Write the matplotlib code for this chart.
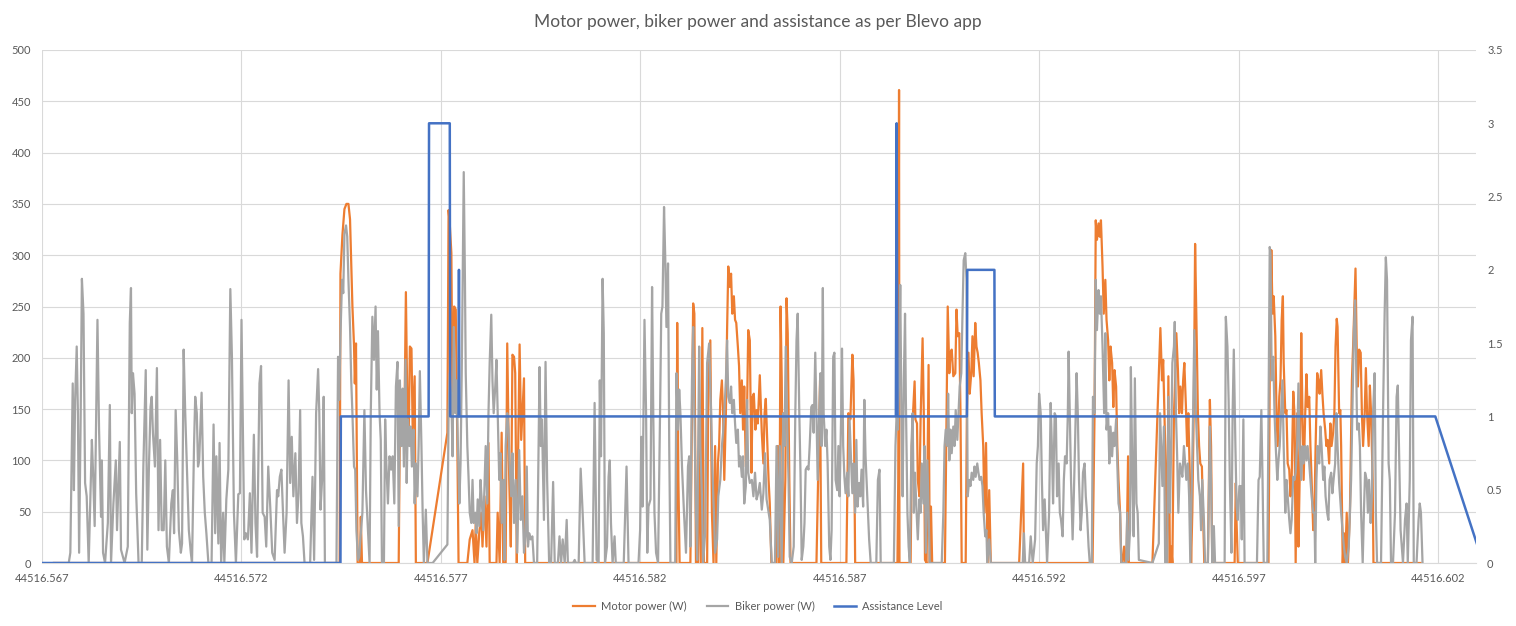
import numpy as np
import matplotlib
matplotlib.use("Agg")
import matplotlib.pyplot as plt

plt.rcParams['font.family'] = ['Lato', 'DejaVu Sans']

# x values are offsets in thousandths of a day from 44516.567
x_start = 44516.567

t_motor = [0.30, 7.46, 7.48, 7.53, 7.58, 7.63, 7.68, 7.72, 7.78, 7.82, 7.84, 7.87, 7.89, 7.91, 7.97, 7.99, 8.02,
           8.94, 8.97, 9.02, 9.05, 9.09, 9.12, 9.16, 9.19, 9.22, 9.26, 9.29, 9.34, 9.37, 9.66, 10.16, 10.19, 10.22,
           10.26, 10.29, 10.33, 10.37, 10.41, 10.44, 10.66, 10.72, 10.79, 10.84, 10.87, 10.91, 10.96, 11.01, 11.04,
           11.09, 11.14, 11.19, 11.22, 11.39, 11.42, 11.47, 11.52, 11.56, 11.62, 11.66, 11.71, 11.75, 11.79, 11.83,
           11.86, 11.90, 11.93, 11.97, 12.01, 12.08, 12.11,
           15.90, 15.92, 15.95, 15.98, 16.25, 16.29, 16.32, 16.35, 16.39, 16.44, 16.47, 16.51, 16.55, 16.59, 16.67,
           16.70, 16.75, 16.79, 16.83, 16.87, 16.90, 16.94, 16.97, 17.00, 17.04, 17.07, 17.10, 17.14, 17.17, 17.20,
           17.24, 17.27, 17.30, 17.34, 17.37, 17.40, 17.44, 17.47, 17.50, 17.54, 17.57, 17.60, 17.64, 17.67, 17.70,
           17.74, 17.78, 17.81, 17.84, 17.88, 17.91, 17.94, 17.99, 18.04, 18.08, 18.11, 18.14, 18.18, 18.21, 18.24,
           18.28, 18.41, 18.44, 18.48, 18.51, 18.54, 18.58, 18.63, 18.66, 18.69, 18.73, 18.76, 19.41, 19.45, 19.50,
           19.53, 20.16, 20.21, 20.26, 20.31, 20.34, 20.38, 21.44, 21.46, 21.48, 21.49, 21.77, 21.80, 21.83, 21.87,
           21.89, 21.93, 21.95, 21.99, 22.02, 22.07, 22.10, 22.13, 22.17, 22.22, 22.25, 22.28, 22.31, 22.63, 22.67,
           22.70, 22.74, 22.77, 22.80, 22.84, 22.89, 22.92, 22.95, 22.99, 23.02, 23.05, 23.15, 23.18, 23.22, 23.25,
           23.29, 23.32, 23.35, 23.39, 23.42, 23.45, 23.48, 23.52, 23.55, 23.59, 23.62, 23.66, 23.70, 23.74, 23.78,
           24.49, 24.59, 24.61, 26.33, 26.38, 26.41, 26.44, 26.48, 26.51, 26.54, 26.58, 26.61, 26.65, 26.68, 26.72,
           26.75, 26.78, 26.82, 26.85, 26.88, 26.92, 26.95, 26.98, 27.02, 27.05, 27.08, 27.12, 27.15, 27.18, 27.22,
           27.24, 27.83, 28.03, 28.07, 28.10, 28.13, 28.17, 28.20, 28.23, 28.27, 28.30, 28.33, 28.37, 28.40, 28.43,
           28.47, 28.50, 28.53, 28.57, 28.60, 28.63, 28.67, 28.70, 28.73, 28.77, 28.80, 28.83, 28.87, 28.90, 28.93,
           28.97, 29.00, 29.03, 29.07, 29.10, 29.13, 29.22, 29.27, 29.30, 29.33, 29.89, 29.92, 29.94, 29.97, 30.74,
           30.77, 30.81, 30.84, 30.87, 30.91, 30.94, 30.97, 31.01, 31.04, 31.07, 31.10, 31.12, 31.16, 31.19, 31.22,
           31.26, 31.29, 31.32, 31.36, 31.39, 31.42, 31.46, 31.49, 31.52, 31.56, 31.59, 31.62, 31.66, 31.69, 31.72,
           31.76, 31.79, 31.82, 31.86, 31.89, 31.92, 31.96, 31.99, 32.02, 32.06, 32.09, 32.12, 32.16, 32.19, 32.22,
           32.26, 32.29, 32.32, 32.36, 32.39, 32.42, 32.45, 32.47, 32.51, 32.54, 32.56, 32.60, 32.63, 32.66, 32.70,
           32.73, 32.78, 32.83, 32.86, 32.90, 32.92, 32.95, 32.98, 33.01, 33.05, 33.08, 33.11, 33.15, 33.18, 33.21,
           33.25, 33.28, 33.31, 33.35, 33.37, 34.55]
motor_w = [0, 0, 282, 320, 345, 350, 350, 335, 250, 212, 175, 214, 100, 0, 0, 45, 0,
           0, 140, 168, 130, 160, 264, 140, 120, 211, 209, 130, 182, 0, 0, 127, 344, 330,
           302, 150, 250, 247, 114, 0, 0, 23, 32, 0, 39, 0, 30, 49, 16,
           65, 16, 117, 0, 0, 49, 0, 127, 0, 0, 214, 81, 16, 203, 201,
           185, 0, 100, 213, 120, 180, 0,
           0, 234, 81, 0, 0, 146, 253, 243, 0, 0, 146, 0, 229, 0, 0,
           178, 217, 49, 0, 114, 0, 97, 114, 159, 178, 146, 81, 146, 227, 289,
           269, 282, 243, 260, 237, 234, 211, 192, 146, 178, 130, 172, 94, 146, 227,
           217, 88, 162, 165, 130, 149, 136, 183, 127, 97, 146, 160, 114, 81, 58,
           0, 0, 114, 0, 250, 178, 0, 81, 258, 224, 81, 0, 0, 81, 178,
           0, 0, 146, 140, 203, 178, 0, 0, 81, 461, 0, 0, 114, 146, 177,
           140, 136, 81, 65, 140, 219, 146, 3, 0, 193, 0, 55, 0, 0, 146,
           250, 185, 205, 208, 182, 185, 247, 221, 224, 146, 0, 0, 146, 205, 165,
           185, 221, 182, 234, 211, 205, 195, 178, 146, 114, 49, 117, 0, 71, 0,
           0, 97, 0, 0, 146, 334, 315, 331, 318, 334, 289, 243, 276, 237, 217,
           178, 211, 195, 152, 188, 172, 114, 81, 49, 0, 0, 16, 0, 0, 104,
           0, 0, 229, 178, 198, 146, 81, 0, 182, 0, 16, 0, 146, 178, 224,
           188, 146, 172, 146, 178, 195, 152, 114, 146, 81, 0, 49, 162, 311, 243,
           146, 114, 97, 94, 49, 0, 0, 159, 114, 0, 0, 78, 39, 0, 0,
           178, 305, 243, 260, 221, 146, 114, 162, 178, 237, 260, 195, 146, 149, 97,
           91, 65, 81, 167, 146, 0, 146, 16, 81, 224, 146, 81, 146, 184, 152,
           162, 114, 81, 32, 49, 114, 185, 178, 165, 188, 165, 146, 130, 114, 120,
           97, 136, 114, 127, 146, 211, 238, 230, 146, 149, 114, 0, 29, 0, 49,
           0, 49, 178, 211, 260, 287, 211, 172, 208, 205, 146, 114, 146, 190, 146,
           114, 173, 146, 81, 0, 0]

t_biker = [0.30, 0.67, 0.71, 0.77, 0.80, 0.83, 0.87, 0.90, 0.93, 0.97, 1.00, 1.04, 1.08, 1.12, 1.17, 1.25, 1.28,
           1.32, 1.39, 1.43, 1.48, 1.50, 1.53, 1.58, 1.65, 1.70, 1.73, 1.79, 1.85, 1.88, 1.95, 1.98, 2.07, 2.15,
           2.20, 2.23, 2.25, 2.28, 2.32, 2.36, 2.42, 2.50, 2.54, 2.60, 2.64, 2.68, 2.72, 2.75, 2.78, 2.83, 2.88,
           2.92, 2.96, 3.00, 3.05, 3.09, 3.13, 3.18, 3.24, 3.28, 3.31, 3.35, 3.39, 3.43, 3.48, 3.51, 3.55, 3.59,
           3.63, 3.68, 3.73, 3.76, 3.81, 3.84, 3.88, 3.91, 3.94, 4.00, 4.04, 4.08, 4.12, 4.17, 4.25, 4.30, 4.34,
           4.37, 4.42, 4.45, 4.49, 4.54, 4.57, 4.62, 4.67, 4.72, 4.76, 4.81, 4.86, 4.92, 4.96, 5.00, 5.03, 5.07,
           5.11, 5.16, 5.21, 5.25, 5.31, 5.35, 5.39, 5.45, 5.49, 5.53, 5.58, 5.62, 5.67, 5.72, 5.77, 5.83, 5.89,
           5.92, 5.96, 6.00, 6.04, 6.08, 6.13, 6.18, 6.22, 6.26, 6.30, 6.35, 6.39, 6.43, 6.47, 6.50, 6.54, 6.58,
           6.72, 6.78, 6.82, 6.87, 6.92, 6.95, 6.98, 7.02, 7.06, 7.09, 7.38, 7.42, 7.45, 7.48, 7.52, 7.55, 7.58,
           7.62, 7.65, 7.68, 7.72, 7.75, 7.78, 7.82, 7.85, 7.88, 7.92, 7.95, 7.98, 8.03, 8.08, 8.12, 8.17, 8.21,
           8.24, 8.28, 8.32, 8.36, 8.39, 8.42, 8.46, 8.49, 8.52, 8.57, 8.60, 8.63, 8.67, 8.71, 8.75, 8.79, 8.83,
           8.87, 8.91, 8.94, 8.97, 9.01, 9.04, 9.07, 9.11, 9.14, 9.17, 9.21, 9.24, 9.27, 9.31, 9.34, 9.37, 9.41,
           9.44, 9.47, 9.51, 9.54, 9.57, 9.62, 9.66, 9.79, 10.16, 10.19, 10.22, 10.26, 10.29, 10.32, 10.36, 10.39,
           10.42, 10.46, 10.49, 10.52, 10.57, 10.60, 10.62, 10.66, 10.69, 10.72, 10.76, 10.79, 10.82, 10.86, 10.89,
           10.92, 10.96, 10.99, 11.02, 11.06, 11.09, 11.12, 11.16, 11.19, 11.22, 11.26, 11.29, 11.32, 11.36, 11.39,
           11.42, 11.46, 11.49, 11.52, 11.56, 11.59, 11.62, 11.66, 11.69, 11.72, 11.76, 11.79,
           11.83, 11.87, 11.91, 11.96, 12.00, 12.04, 12.08, 12.12, 12.15, 12.18, 12.21, 12.25, 12.29, 12.33, 12.41,
           12.47, 12.50, 12.53, 12.58, 12.62, 12.66, 12.71, 12.76, 12.81, 12.85, 12.93, 12.97, 13.01, 13.05, 13.10,
           13.15, 13.18, 13.31, 13.35, 13.38, 13.45, 13.50, 13.55, 13.60, 13.80, 13.85, 13.90, 13.95, 13.98, 14.01,
           14.05, 14.08, 14.11, 14.16, 14.20, 14.23, 14.26, 14.30, 14.35, 14.38, 14.58, 14.65, 14.70,
           14.95, 14.99, 15.02, 15.05, 15.10, 15.14, 15.17, 15.20, 15.25, 15.29, 15.32, 15.35, 15.39, 15.44, 15.49,
           15.52, 15.55, 15.59, 15.62, 15.65, 15.69, 15.72, 15.75, 15.87, 15.90, 15.94, 15.97, 16.00, 16.04, 16.09,
           16.14, 16.19, 16.22, 16.25, 16.29, 16.32, 16.35, 16.39, 16.42, 16.47, 16.50, 16.54, 16.57, 16.62, 16.67,
           16.72, 16.77, 16.80, 16.84, 16.87, 16.92, 16.95, 17.00, 17.04, 17.07, 17.10, 17.14, 17.17, 17.20, 17.24,
           17.27, 17.30, 17.34, 17.37, 17.40, 17.44, 17.47, 17.50, 17.54, 17.57, 17.60, 17.64, 17.67, 17.70,
           17.74, 17.79, 17.83, 17.87, 17.91, 17.95, 17.99, 18.04, 18.08, 18.12, 18.16, 18.20, 18.24, 18.29, 18.37,
           18.41, 18.45, 18.49, 18.54, 18.58, 18.61, 18.64, 18.68, 18.71, 18.74, 18.79, 18.84, 18.88, 18.91, 18.94,
           18.98, 19.01, 19.04, 19.08, 19.11, 19.14, 19.18, 19.21, 19.24, 19.28, 19.31, 19.34, 19.38, 19.41, 19.44,
           19.48, 19.51, 19.54, 19.57, 19.59, 19.63, 19.66, 19.69, 19.73, 19.76, 19.79, 19.83, 19.86, 19.89, 19.93,
           19.96, 19.99, 20.03, 20.05, 20.08, 20.11, 20.14, 20.18, 20.21, 20.24, 20.28, 20.31, 20.34, 20.38, 20.41,
           20.44, 20.48, 20.51, 20.54, 20.58, 20.61, 20.64, 20.68,
           20.73, 20.77, 20.91, 20.95, 20.99, 21.02, 21.35, 21.39, 21.42, 21.45, 21.48, 21.51, 21.54, 21.57, 21.60,
           21.63, 21.65, 21.69, 21.72, 21.75, 21.79, 21.82, 21.85, 21.88, 21.92, 21.95, 21.99, 22.02, 22.05, 22.09,
           22.12, 22.15, 22.19, 22.22, 22.25, 22.55, 22.59, 22.62, 22.65, 22.69, 22.71, 22.74, 22.77, 22.80, 22.84,
           22.87, 22.90, 22.94, 22.97, 23.00, 23.04, 23.07, 23.10, 23.14, 23.17, 23.20, 23.24, 23.27, 23.30, 23.34,
           23.37, 23.40, 23.44, 23.47, 23.50, 23.54, 23.57, 23.60, 23.64,
           23.67, 23.69, 23.74, 23.78, 24.58, 24.61, 24.64, 24.74, 24.78, 24.83, 24.89, 24.93, 24.96, 24.99, 25.03,
           25.06, 25.09, 25.13, 25.16, 25.19, 25.24, 25.28, 25.31, 25.34, 25.38, 25.41, 25.44, 25.48, 25.51, 25.54,
           25.58, 25.61, 25.64, 25.68, 25.71, 25.73, 25.76, 25.79, 25.83, 25.86, 25.89, 25.93, 25.96, 25.99, 26.03,
           26.06, 26.09, 26.13, 26.16, 26.19, 26.23, 26.26, 26.31, 26.34, 26.38, 26.41, 26.44, 26.48, 26.51, 26.54,
           26.58,
           26.62, 26.65, 26.68, 26.72, 26.75, 26.78, 26.82, 26.85, 26.88, 26.92, 26.95, 26.98, 27.02, 27.05, 27.17,
           27.20, 27.23, 27.27, 27.29, 27.33, 27.36, 27.39, 27.43, 27.46, 27.49, 27.83, 27.99, 28.02, 28.05, 28.08,
           28.12, 28.15, 28.20, 28.23, 28.27, 28.30, 28.33, 28.37, 28.39, 28.42, 28.45, 28.48, 28.52, 28.55, 28.58,
           28.62, 28.65, 28.68, 28.72, 28.75, 28.78, 28.82, 28.85, 28.88, 28.92, 28.95, 28.98, 29.02, 29.05, 29.08,
           29.12, 29.15, 29.22, 29.27, 29.30, 29.33, 29.37, 29.40, 29.64,
           29.67, 29.71, 29.74, 29.77, 29.81, 29.84, 29.87, 29.91, 29.94, 29.97, 30.01, 30.04, 30.07, 30.11, 30.14,
           30.45, 30.49, 30.52, 30.56, 30.59, 30.62, 30.71, 30.74, 30.77, 30.79, 30.82, 30.86, 30.89, 30.92, 30.96,
           30.99, 31.02, 31.06, 31.09, 31.12, 31.16, 31.19, 31.22, 31.26, 31.29, 31.32, 31.36, 31.39, 31.42, 31.46,
           31.49, 31.52, 31.56, 31.59, 31.62, 31.66, 31.69, 31.72, 31.76, 31.79, 31.82, 31.86, 31.89, 31.91, 31.94,
           31.97, 32.01, 32.04, 32.07, 32.11, 32.14, 32.17, 32.21, 32.24, 32.27, 32.31, 32.34, 32.37, 32.41, 32.44,
           32.47, 32.51,
           32.56, 32.60, 32.63, 32.66, 32.70, 32.75, 32.78, 32.81, 32.85, 32.88, 32.91, 32.93, 32.96, 33.00, 33.03,
           33.06, 33.10, 33.13, 33.16, 33.20, 33.23, 33.26, 33.30, 33.33, 33.36, 33.40, 33.43, 33.46, 33.56, 33.61,
           33.65, 33.68, 33.71, 33.75, 33.78, 33.81, 33.86, 33.91, 33.95, 33.98, 34.01, 34.05, 34.08, 34.11, 34.16,
           34.20, 34.23, 34.28, 34.31, 34.35, 34.38, 34.45, 34.50, 34.53, 34.56, 34.60]
biker_w = [0, 0, 10, 175, 71, 159, 211, 146, 10, 146, 277, 243, 78, 65, 0, 120, 88,
           36, 237, 130, 45, 100, 10, 0, 39, 154, 0, 58, 100, 32, 118, 13, 0, 16,
           234, 268, 146, 185, 165, 68, 0, 0, 94, 188, 13, 94, 152, 162, 127, 94, 190,
           32, 120, 32, 32, 100, 16, 0, 58, 71, 29, 149, 100, 32, 10, 19, 208, 146,
           94, 32, 10, 0, 114, 162, 146, 94, 100, 166, 84, 49, 29, 0, 0, 135, 29,
           104, 19, 117, 0, 49, 0, 62, 91, 267, 201, 49, 0, 67, 68, 237, 146, 23,
           29, 23, 68, 10, 125, 39, 6, 175, 192, 49, 45, 16, 94, 55, 10, 3, 71,
           65, 84, 91, 49, 10, 49, 178, 78, 123, 65, 107, 39, 68, 149, 39, 26, 0,
           0, 84, 3, 146, 189, 146, 52, 81, 162, 0, 0, 201, 159, 221, 276, 263, 321,
           329, 318, 276, 230, 178, 146, 94, 91, 32, 3, 6, 23, 49, 149, 71, 32, 0,
           146, 240, 198, 250, 169, 226, 146, 120, 0, 0, 140, 97, 58, 104, 91, 104, 58,
           172, 196, 36, 178, 114, 170, 94, 198, 78, 140, 114, 133, 94, 130, 58, 97, 65,
           114, 187, 114, 49, 0, 52, 0, 0, 18, 146, 185, 159, 104, 230, 146, 178,
           120, 58, 97, 185, 381, 276, 185, 114, 84, 49, 39, 81, 39, 49, 29,
           62, 36, 81, 62, 32, 75, 114, 58, 146, 195, 242, 178, 146, 172, 198,
           146, 81, 107, 39, 81, 3, 114, 146, 130, 97, 65, 107,
           39, 81, 10, 110, 42, 65, 10, 26, 94, 16, 29, 23, 26, 0, 0,
           191, 114, 140, 42, 196, 81, 0, 0, 79, 0, 0, 26, 0, 23, 0,
           42, 0, 0, 3, 0, 0, 92, 49, 0, 0, 156, 3, 0, 178, 104,
           277, 224, 0, 16, 84, 100, 39, 0, 26, 0, 0, 94, 0,
           0, 32, 123, 55, 237, 146, 10, 55, 62, 269, 146, 49, 10, 0, 146,
           243, 250, 347, 298, 230, 292, 114, 0, 0, 185, 130, 169, 146, 94, 49,
           10, 94, 104, 16, 178, 230, 146, 49, 3, 211, 114, 65, 0, 29, 195,
           214, 146, 94, 49, 10, 23, 65, 81, 114, 127, 146, 178, 217, 162, 156,
           172, 146, 159, 136, 117, 130, 94, 104, 84, 104, 58, 75, 159, 88,
           78, 81, 65, 88, 62, 68, 78, 52, 68, 107, 62, 52, 42, 0, 0,
           114, 6, 114, 0, 146, 114, 211, 130, 81, 6, 0, 16, 146, 217, 243,
           146, 88, 3, 16, 39, 91, 94, 91, 114, 152, 154, 127, 205, 146, 81,
           146, 185, 114, 268, 146, 114, 130, 97, 16, 3, 32, 201, 205, 81, 71,
           114, 65, 146, 209, 114, 84, 68, 88, 65, 140, 97, 68, 97, 49, 120,
           55, 78, 65, 91, 55, 159, 104, 68,
           23, 0, 0, 81, 91, 0, 0, 114, 146, 130, 178, 271, 146, 65, 178,
           243, 162, 49, 16, 0, 114, 146, 49, 88, 49, 23, 62, 49, 97, 58,
           114, 10, 100, 49, 0, 0, 49, 114, 130, 114, 165, 100, 130, 107, 133,
           114, 149, 120, 146, 172, 185, 243, 295, 302, 276, 65, 81, 75, 88, 81,
           94, 84, 97, 88, 81, 84, 75, 49, 26,
           32, 0, 23, 0, 0, 29, 0, 0, 26, 0, 23, 97, 114, 165, 146,
           81, 32, 62, 32, 0, 49, 156, 114, 58, 146, 143, 65, 97, 49, 42,
           26, 81, 104, 97, 146, 206, 146, 81, 23, 65, 114, 185, 146, 81, 32,
           49, 88, 97, 65, 49, 16, 0, 0, 162, 146, 276, 227, 266, 243, 260,
           211,
           146, 224, 130, 146, 97, 133, 104, 127, 114, 140, 97, 58, 49, 0, 0,
           49, 3, 32, 191, 81, 26, 180, 58, 49, 3, 0, 19, 146, 114, 75,
           133, 0, 0, 162, 49, 114, 195, 211, 235, 146, 104, 49, 97, 91, 84,
           114, 97, 81, 97, 65, 0, 81, 146, 227, 146, 114, 81, 65, 32, 81,
           42, 0, 0, 133, 81, 0, 36, 0, 0,
           240, 211, 159, 81, 10, 146, 208, 114, 55, 42, 75, 75, 23, 140, 0,
           0, 81, 84, 149, 81, 0, 0, 146, 308, 302, 178, 201, 146, 114, 81,
           100, 114, 152, 178, 114, 49, 81, 65, 42, 29, 42, 84, 81, 88, 120,
           175, 114, 81, 114, 97, 114, 100, 114, 97, 81, 65, 49, 49, 0, 81,
           114, 97, 133, 114, 81, 94, 65, 49, 42, 81, 88, 68, 81, 97, 146,
           114, 78,
           49, 29, 16, 6, 0, 16, 49, 81, 162, 227, 256, 211, 130, 136, 114,
           49, 0, 49, 88, 81, 49, 81, 39, 65, 146, 185, 49, 0, 0, 146,
           243, 298, 276, 97, 81, 0, 0, 49, 162, 173, 114, 32, 16, 0, 42,
           58, 0, 81, 217, 240, 0, 0, 42, 58, 49, 0]

t_assist = [0.0, 7.48, 7.49, 9.69, 9.70, 10.22, 10.23, 10.44, 10.45, 10.46, 21.40, 21.42, 21.44,
            23.18, 23.19, 23.87, 23.88, 34.92, 36.12]
assist_level = [0, 0, 1, 1, 3, 3, 1, 1, 2, 1, 1, 3, 1, 1, 2, 2, 1, 1, 0]

x_ticks = [44516.567, 44516.572, 44516.577, 44516.582, 44516.587, 44516.592, 44516.597, 44516.602]

grey_txt = '#595959'
grid_c = '#d9d9d9'

fig = plt.figure(figsize=(15.16, 6.26), dpi=100)
ax = fig.add_axes([42 / 1516, 63 / 626, 1434 / 1516, 513 / 626])

xm = x_start + np.array(t_motor) / 1000
xb = x_start + np.array(t_biker) / 1000
xa = x_start + np.array(t_assist) / 1000

l1, = ax.plot(xm, motor_w, color='#ED7D31', lw=1.6, label='Motor power (W)', zorder=3)
l2, = ax.plot(xb, biker_w, color='#A5A5A5', lw=1.6, label='Biker power (W)', zorder=4)

ax.set_xlim(44516.567, 44516.60294)
ax.set_ylim(0, 500)
ax.set_yticks(np.arange(0, 501, 50))
ax.set_xticks(x_ticks)
ax.set_xticklabels([f'{v:.3f}' for v in x_ticks])
ax.grid(True, color=grid_c, lw=0.8)
ax.set_axisbelow(True)
ax.tick_params(length=0, labelsize=8, labelcolor=grey_txt)
ax.tick_params(axis='y', pad=8)
ax.tick_params(axis='x', pad=7)
for s in ax.spines.values():
    s.set_visible(False)
ax.spines['bottom'].set_visible(True)
ax.spines['bottom'].set_color(grid_c)

ax2 = ax.twinx()
l3, = ax2.plot(xa, assist_level, color='#4472C4', lw=1.8, label='Assistance Level', zorder=5)
ax2.set_ylim(0, 3.5)
r_ticks = np.arange(0, 3.51, 0.5)
ax2.set_yticks(r_ticks)
ax2.set_yticklabels([f'{v:g}' for v in r_ticks])
ax2.tick_params(length=0, labelsize=8, labelcolor=grey_txt, pad=8)
for s in ax2.spines.values():
    s.set_visible(False)
ax2.set_xlim(44516.567, 44516.60294)

fig.text(0.5, 1 - 22 / 626, 'Motor power, biker power and assistance as per Blevo app',
         ha='center', va='center', fontsize=12.5, color=grey_txt)

fig.legend(handles=[l1, l2, l3], loc='center', bbox_to_anchor=(0.5, 1 - 606 / 626), ncol=3,
           frameon=False, fontsize=8, labelcolor=grey_txt, handlelength=1.9, handletextpad=0.6,
           columnspacing=1.8)

fig.savefig('out.png', dpi=100, facecolor='white')
